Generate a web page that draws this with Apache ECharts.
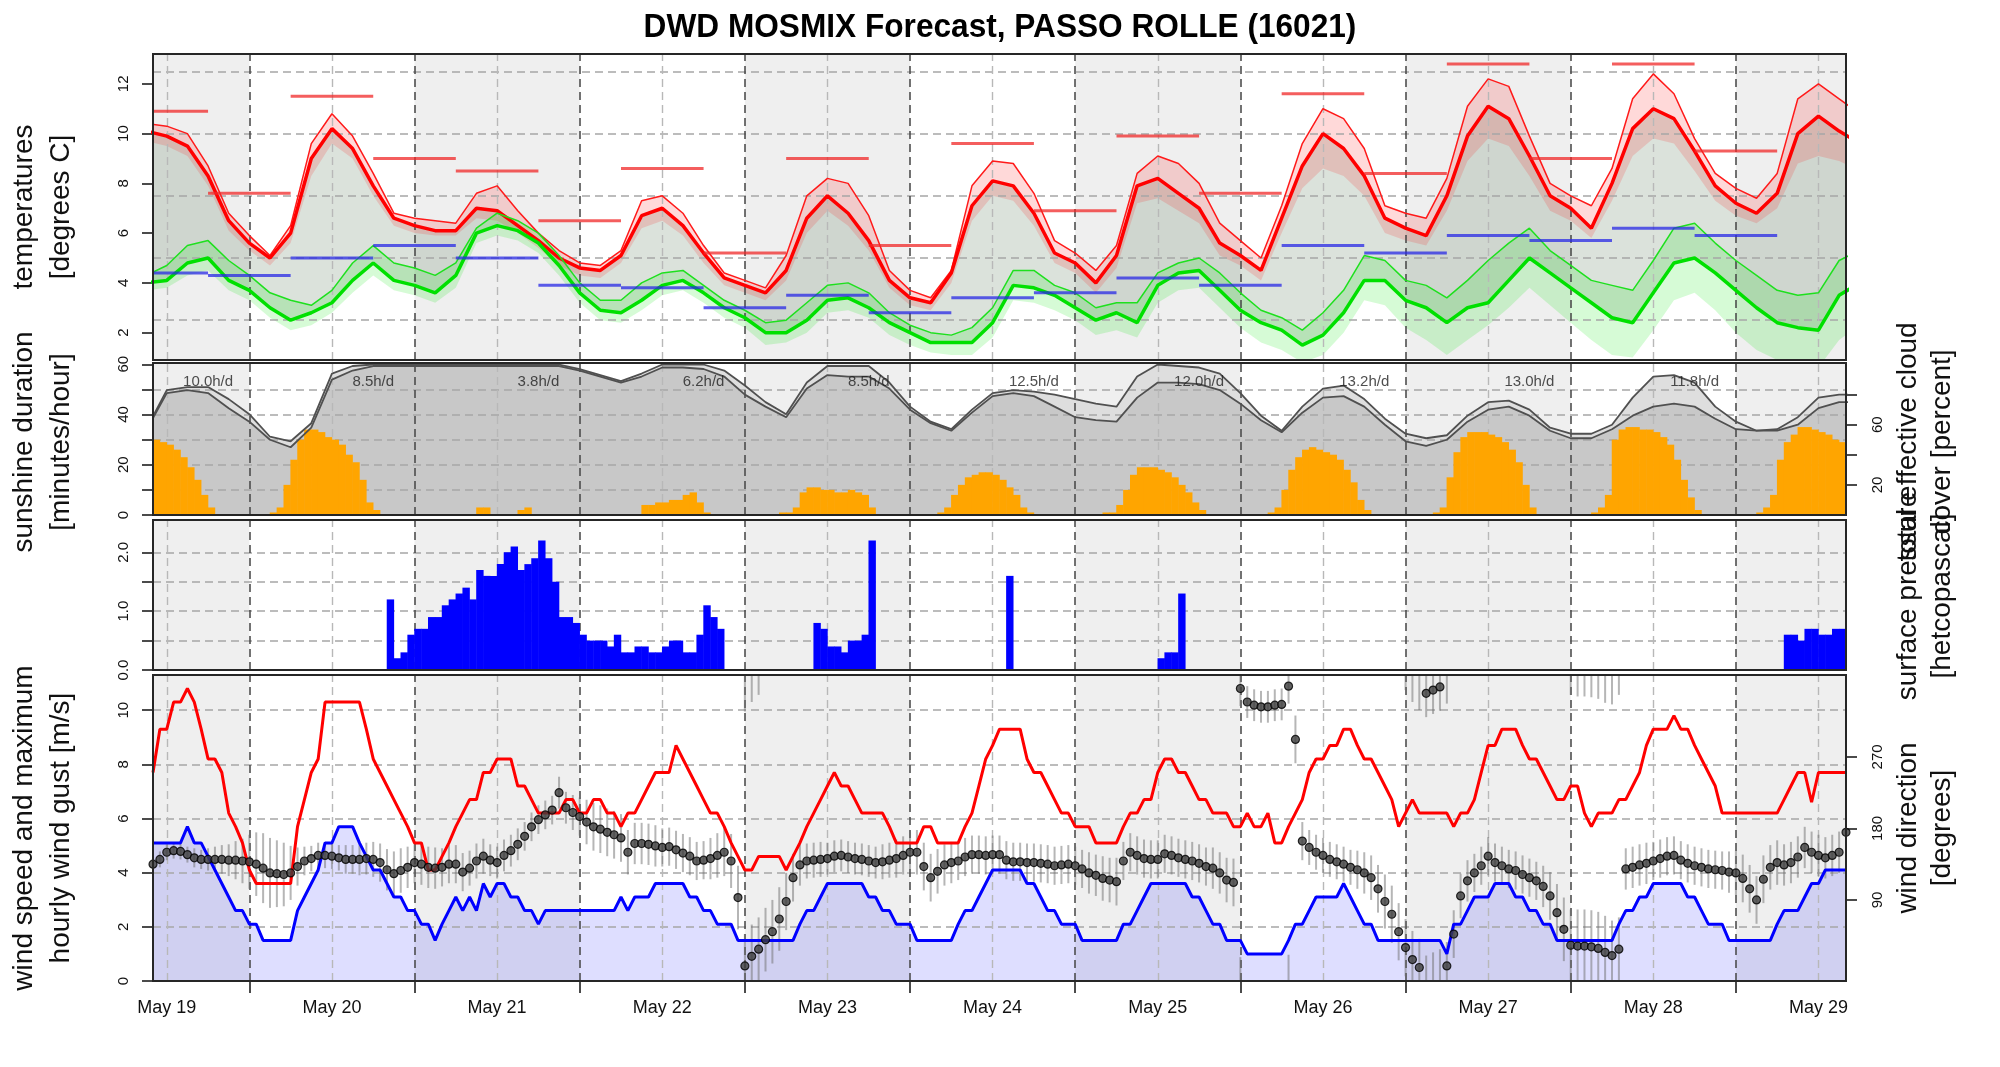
<!DOCTYPE html>
<html>
<head>
<meta charset="utf-8">
<title>DWD MOSMIX Forecast, PASSO ROLLE (16021)</title>
<script src="https://cdn.jsdelivr.net/npm/echarts@6/dist/echarts.min.js"></script>
<style>
  html, body { margin: 0; padding: 0; background: #fff; }
  #meteogram { width: 2000px; height: 1067px; }
</style>
</head>
<body>
<div id="meteogram"></div>
<script>
// time is counted in hours from May 19 00:00
const xMin = 10, xMax = 256;
const noonHours = [12, 36, 60, 84, 108, 132, 156, 180, 204, 228, 252];
const midnightHours = [24, 48, 72, 96, 120, 144, 168, 192, 216, 240];
const dayLabels = ['May 19', 'May 20', 'May 21', 'May 22', 'May 23', 'May 24', 'May 25', 'May 26', 'May 27', 'May 28', 'May 29'];
const shadedDays = [[10, 24], [48, 72], [96, 120], [144, 168], [192, 216], [240, 256]];

// temperatures, 3-hourly from 09:00 May 19
const tempStart = 9, tempStep = 3;
const tempMain = [
  10.1, 9.9, 9.5, 8.3, 6.5, 5.6, 5.0, 6.0,
  9.0, 10.2, 9.4, 7.9, 6.6, 6.3, 6.1, 6.1,
  7.0, 6.9, 6.3, 5.7, 5.0, 4.6, 4.5, 5.1,
  6.7, 7.0, 6.3, 5.2, 4.2, 3.9, 3.6, 4.5,
  6.6, 7.5, 6.8, 5.7, 4.1, 3.4, 3.2, 4.4,
  7.1, 8.1, 7.9, 6.8, 5.2, 4.8, 4.0, 5.1,
  7.9, 8.2, 7.6, 7.0, 5.6, 5.1, 4.5, 6.6,
  8.7, 10.0, 9.4, 8.3, 6.6, 6.2, 5.9, 7.5,
  9.9, 11.1, 10.6, 9.1, 7.5, 7.0, 6.2, 8.0,
  10.2, 11.0, 10.6, 9.3, 7.9, 7.2, 6.8, 7.6,
  10.0, 10.7, 10.1, 9.6];
const tempHigh = [
  10.4, 10.3, 10.0, 8.7, 6.8, 5.9, 5.1, 6.3,
  9.6, 10.8, 9.9, 8.4, 6.8, 6.6, 6.5, 6.4,
  7.6, 7.9, 6.9, 6.0, 5.3, 4.8, 4.7, 5.3,
  7.3, 7.5, 6.8, 5.5, 4.4, 4.1, 3.8, 5.1,
  7.5, 8.2, 8.0, 6.7, 4.5, 3.7, 3.4, 4.5,
  7.9, 8.9, 8.8, 7.6, 5.7, 5.2, 4.5, 5.5,
  8.4, 9.1, 8.8, 8.0, 6.4, 5.7, 5.0, 7.1,
  9.6, 11.0, 10.6, 9.4, 7.1, 6.8, 6.6, 8.2,
  11.1, 12.2, 11.9, 9.9, 8.0, 7.5, 7.1, 8.6,
  11.4, 12.4, 11.6, 9.8, 8.4, 7.8, 7.4, 8.4,
  11.4, 12.0, 11.4, 10.8];
const tempLow = [
  9.7, 9.5, 9.1, 7.9, 6.1, 5.3, 4.7, 5.6,
  8.3, 9.6, 9.0, 7.5, 6.3, 6.0, 5.9, 5.9,
  6.6, 6.5, 6.0, 5.4, 4.7, 4.3, 4.2, 4.8,
  6.2, 6.5, 5.9, 4.8, 3.9, 3.6, 3.3, 4.1,
  6.0, 6.9, 6.3, 5.3, 3.8, 3.1, 2.9, 4.0,
  6.5, 7.5, 7.3, 6.3, 4.8, 4.4, 3.6, 4.6,
  7.2, 7.4, 6.9, 6.4, 5.1, 4.7, 4.1, 6.0,
  7.8, 8.6, 8.3, 7.5, 6.0, 5.7, 5.5, 6.9,
  8.9, 9.8, 9.5, 8.3, 6.9, 6.5, 5.8, 7.3,
  9.1, 9.8, 9.6, 8.5, 7.3, 6.7, 6.4, 7.0,
  8.8, 9.1, 8.9, 8.5];
const dewMain = [
  4.0, 4.1, 4.8, 5.0, 4.1, 3.7, 3.0, 2.5,
  2.8, 3.2, 4.1, 4.8, 4.1, 3.9, 3.6, 4.3,
  6.0, 6.3, 6.1, 5.6, 4.7, 3.6, 2.9, 2.8,
  3.3, 3.9, 4.1, 3.6, 3.0, 2.6, 2.0, 2.0,
  2.5, 3.3, 3.4, 3.0, 2.4, 2.0, 1.6, 1.6,
  1.6, 2.4, 3.9, 3.8, 3.5, 3.0, 2.5, 2.8,
  2.4, 3.9, 4.4, 4.5, 3.7, 2.9, 2.4, 2.1,
  1.5, 1.9, 2.8, 4.1, 4.1, 3.3, 3.0, 2.4,
  3.0, 3.2, 4.1, 5.0, 4.4, 3.8, 3.2, 2.6,
  2.4, 3.6, 4.8, 5.0, 4.4, 3.7, 3.0, 2.4,
  2.2, 2.1, 3.5, 4.0];
const dewHigh = [
  4.3, 4.7, 5.5, 5.7, 4.9, 4.3, 3.6, 3.3,
  3.1, 3.7, 4.8, 5.5, 4.8, 4.6, 4.3, 4.8,
  6.2, 6.8, 6.5, 6.0, 5.1, 4.0, 3.3, 3.3,
  4.0, 4.4, 4.5, 3.9, 3.3, 2.9, 2.4, 2.5,
  3.2, 3.9, 4.0, 3.6, 2.8, 2.3, 2.0, 1.9,
  2.2, 3.0, 4.5, 4.5, 3.9, 3.6, 3.0, 3.2,
  3.2, 4.4, 4.8, 5.0, 4.4, 3.6, 2.9, 2.6,
  2.1, 2.8, 3.7, 5.1, 4.9, 4.1, 3.9, 3.4,
  4.1, 4.9, 5.6, 6.2, 5.3, 4.7, 4.1, 3.9,
  3.7, 4.9, 6.2, 6.4, 5.6, 4.9, 4.3, 3.7,
  3.5, 3.6, 4.9, 5.3];
const dewLow = [
  3.7, 3.8, 4.3, 4.5, 3.7, 3.3, 2.6, 2.1,
  2.3, 2.8, 3.6, 4.3, 3.7, 3.5, 3.2, 3.8,
  5.6, 5.9, 5.7, 5.2, 4.3, 3.2, 2.5, 2.4,
  2.9, 3.5, 3.7, 3.2, 2.6, 2.2, 1.5, 1.6,
  2.0, 2.8, 2.9, 2.6, 1.9, 1.5, 1.2, 1.1,
  1.1, 1.8, 3.3, 3.2, 2.9, 2.5, 1.9, 2.1,
  1.8, 3.2, 3.7, 3.8, 3.0, 2.2, 1.6, 1.3,
  0.8, 1.1, 2.0, 3.3, 3.1, 2.2, 1.7, 1.1,
  1.7, 2.3, 3.0, 3.8, 3.1, 2.4, 1.7, 1.1,
  1.0, 2.1, 3.3, 3.6, 2.9, 2.0, 1.3, 0.9,
  0.7, 0.6, 1.7, 2.3];

// 12-hourly max / min temperatures
const tSegBounds = [10, 18, 30, 42, 54, 66, 78, 90, 102, 114, 126, 138, 150, 162, 174, 186, 198, 210, 222, 234, 246];
const tMax12h = [10.9, 7.6, 11.5, 9.0, 8.5, 6.5, 8.6, 5.2, 9.0, 5.5, 9.6, 6.9, 9.9, 7.6, 11.6, 8.4, 12.8, 9.0, 12.8, 9.3];
const tMin12h = [4.4, 4.3, 5.0, 5.5, 5.0, 3.9, 3.8, 3.0, 3.5, 2.8, 3.4, 3.6, 4.2, 3.9, 5.5, 5.2, 5.9, 5.7, 6.2, 5.9];

// cloud cover [%], 3-hourly from 09:00 May 19
const cloudTotal = [
  57, 83, 85, 85, 77, 67, 52, 49,
  61, 94, 99, 100, 100, 100, 100, 100,
  100, 100, 100, 100, 100, 97, 93, 89,
  94, 100, 100, 100, 96, 86, 75, 67,
  88, 99, 99, 99, 88, 72, 62, 57,
  70, 81, 83, 82, 80, 77, 74, 72,
  92, 100, 99, 98, 94, 81, 66, 56,
  72, 84, 86, 77, 64, 54, 51, 53,
  66, 75, 76, 70, 58, 54, 54, 60,
  78, 92, 93, 88, 72, 62, 56, 57,
  65, 78, 80, 80];
const cloudEffective = [
  56, 81, 83, 81, 71, 62, 50, 45,
  58, 90, 96, 99, 99, 99, 99, 99,
  99, 99, 99, 99, 99, 96, 92, 88,
  92, 98, 98, 97, 92, 80, 72, 65,
  84, 93, 92, 92, 84, 70, 61, 56,
  68, 79, 81, 79, 72, 65, 63, 62,
  78, 88, 88, 87, 83, 74, 63, 55,
  68, 78, 79, 72, 60, 49, 46, 50,
  62, 70, 72, 66, 56, 51, 51, 57,
  66, 72, 74, 72, 64, 57, 56, 56,
  60, 71, 75, 75];

// hourly sunshine [min/h], runs starting at given hour
const sunRunStart = [10, 27, 57, 63, 81, 101, 124, 148, 172, 196, 219, 243];
const sunRuns = [
  [30, 29, 28, 26, 23, 19, 14, 8, 3],
  [1, 3, 12, 22, 30, 34, 34, 33, 31, 30, 28, 24, 21, 14, 5, 2],
  [3, 3],
  [2, 3],
  [4, 4, 5, 5, 6, 6, 8, 9, 5, 1],
  [1, 1, 3, 9, 11, 11, 10, 10, 9, 9, 10, 9, 8, 3],
  [1, 3, 8, 12, 15, 16, 17, 17, 16, 14, 11, 8, 3, 1],
  [1, 1, 4, 10, 16, 19, 19, 19, 18, 17, 15, 12, 9, 5, 2],
  [1, 3, 10, 18, 23, 26, 27, 26, 25, 24, 22, 18, 13, 6, 2],
  [1, 3, 15, 25, 31, 33, 33, 33, 32, 31, 29, 26, 21, 12, 3],
  [1, 3, 8, 30, 34, 35, 35, 34, 34, 33, 31, 28, 22, 14, 7, 2],
  [1, 3, 8, 22, 29, 32, 35, 35, 34, 33, 32, 30, 29]
];
const sunDailyHours = [10.0, 8.5, 3.8, 6.2, 8.5, 12.5, 12.0, 13.2, 13.0, 11.8];
const sunDailyAt = [18, 42, 66, 90, 114, 138, 162, 186, 210, 234];

// hourly precipitation [mm], runs starting at given hour
const rainRunStart = [44, 106, 134, 156, 247];
const rainRuns = [
  [1.2, 0.2, 0.3, 0.6, 0.7, 0.7, 0.9, 0.9, 1.1, 1.2, 1.3, 1.4, 1.2, 1.7, 1.6, 1.6, 1.8, 2.0, 2.1, 1.7,
   1.8, 1.9, 2.2, 1.9, 1.5, 0.9, 0.9, 0.8, 0.6, 0.5, 0.5, 0.5, 0.4, 0.6, 0.3, 0.3, 0.4, 0.4, 0.3, 0.3,
   0.4, 0.5, 0.5, 0.3, 0.3, 0.6, 1.1, 0.9, 0.7],
  [0.8, 0.7, 0.4, 0.4, 0.3, 0.5, 0.5, 0.6, 2.2],
  [1.6],
  [0.2, 0.3, 0.3, 1.3],
  [0.6, 0.6, 0.5, 0.7, 0.7, 0.6, 0.6, 0.7, 0.7]
];

// hourly wind from 10:00 May 19 to 16:00 May 29
const windStart = 10;
const windGust = [
  7.7, 9.3, 9.3, 10.3, 10.3, 10.8, 10.3, 9.3, 8.2, 8.2,
  7.7, 6.2, 5.7, 5.1, 4.1, 3.6, 3.6, 3.6, 3.6, 3.6,
  3.6, 5.7, 6.7, 7.7, 8.2, 10.3, 10.3, 10.3, 10.3, 10.3,
  10.3, 9.3, 8.2, 7.7, 7.2, 6.7, 6.2, 5.7, 5.1, 5.1,
  4.1, 4.1, 4.6, 5.1, 5.7, 6.2, 6.7, 6.7, 7.7, 7.7,
  8.2, 8.2, 8.2, 7.2, 7.2, 6.7, 6.2, 6.2, 6.2, 6.2,
  6.7, 6.7, 6.2, 6.2, 6.7, 6.7, 6.2, 6.2, 5.7, 6.2,
  6.2, 6.7, 7.2, 7.7, 7.7, 7.7, 8.7, 8.2, 7.7, 7.2,
  6.7, 6.2, 6.2, 5.7, 5.1, 4.6, 4.1, 4.1, 4.6, 4.6,
  4.6, 4.6, 4.1, 4.6, 5.1, 5.7, 6.2, 6.7, 7.2, 7.7,
  7.2, 7.2, 6.7, 6.2, 6.2, 6.2, 6.2, 5.7, 5.1, 5.1,
  5.1, 5.1, 5.7, 5.7, 5.1, 5.1, 5.1, 5.1, 5.7, 6.2,
  7.2, 8.2, 8.7, 9.3, 9.3, 9.3, 9.3, 8.2, 7.7, 7.7,
  7.2, 6.7, 6.2, 6.2, 5.7, 5.7, 5.7, 5.1, 5.1, 5.1,
  5.1, 5.7, 6.2, 6.2, 6.7, 6.7, 7.7, 8.2, 8.2, 7.7,
  7.7, 7.2, 6.7, 6.7, 6.2, 6.2, 6.2, 5.7, 5.7, 6.2,
  5.7, 5.7, 6.2, 5.1, 5.1, 5.7, 6.2, 6.7, 7.7, 8.2,
  8.2, 8.7, 8.7, 9.3, 9.3, 8.7, 8.2, 8.2, 7.7, 7.2,
  6.7, 5.7, 6.2, 6.7, 6.2, 6.2, 6.2, 6.2, 6.2, 5.7,
  6.2, 6.2, 6.7, 7.7, 8.7, 8.7, 9.3, 9.3, 9.3, 8.7,
  8.2, 8.2, 7.7, 7.2, 6.7, 6.7, 7.2, 7.2, 6.2, 5.7,
  6.2, 6.2, 6.2, 6.7, 6.7, 7.2, 7.7, 8.7, 9.3, 9.3,
  9.3, 9.8, 9.3, 9.3, 8.7, 8.2, 7.7, 7.2, 6.2, 6.2,
  6.2, 6.2, 6.2, 6.2, 6.2, 6.2, 6.2, 6.7, 7.2, 7.7,
  7.7, 6.6, 7.7, 7.7, 7.7, 7.7, 7.7];
const windSpeed = [
  5.1, 5.1, 5.1, 5.1, 5.1, 5.7, 5.1, 5.1, 4.6, 4.1,
  3.6, 3.1, 2.6, 2.6, 2.1, 2.1, 1.5, 1.5, 1.5, 1.5,
  1.5, 2.6, 3.1, 3.6, 4.1, 5.1, 5.1, 5.7, 5.7, 5.7,
  5.1, 4.6, 4.1, 4.1, 3.6, 3.1, 3.1, 2.6, 2.6, 2.1,
  2.1, 1.5, 2.1, 2.6, 3.1, 2.6, 3.1, 2.6, 3.6, 3.1,
  3.6, 3.6, 3.1, 3.1, 2.6, 2.6, 2.1, 2.6, 2.6, 2.6,
  2.6, 2.6, 2.6, 2.6, 2.6, 2.6, 2.6, 2.6, 3.1, 2.6,
  3.1, 3.1, 3.1, 3.6, 3.6, 3.6, 3.6, 3.6, 3.1, 3.1,
  2.6, 2.6, 2.1, 2.1, 2.1, 1.5, 1.5, 1.5, 1.5, 1.5,
  1.5, 1.5, 1.5, 1.5, 2.1, 2.6, 2.6, 3.1, 3.6, 3.6,
  3.6, 3.6, 3.6, 3.6, 3.1, 3.1, 2.6, 2.6, 2.1, 2.1,
  2.1, 1.5, 1.5, 1.5, 1.5, 1.5, 1.5, 2.1, 2.6, 2.6,
  3.1, 3.6, 4.1, 4.1, 4.1, 4.1, 4.1, 3.6, 3.6, 3.1,
  2.6, 2.6, 2.1, 2.1, 2.1, 1.5, 1.5, 1.5, 1.5, 1.5,
  1.5, 2.1, 2.1, 2.6, 3.1, 3.6, 3.6, 3.6, 3.6, 3.6,
  3.6, 3.1, 3.1, 2.6, 2.1, 2.1, 1.5, 1.5, 1.5, 1.0,
  1.0, 1.0, 1.0, 1.0, 1.0, 1.5, 2.1, 2.1, 2.6, 3.1,
  3.1, 3.1, 3.1, 3.6, 3.1, 2.6, 2.1, 2.1, 1.5, 1.5,
  1.5, 1.5, 1.5, 1.5, 1.5, 1.5, 1.5, 1.5, 1.0, 2.1,
  2.1, 2.6, 3.1, 3.1, 3.1, 3.6, 3.6, 3.6, 3.1, 3.1,
  2.6, 2.6, 2.1, 2.1, 1.5, 1.5, 1.5, 1.5, 1.5, 1.5,
  1.5, 1.5, 1.5, 2.1, 2.6, 2.6, 3.1, 3.1, 3.6, 3.6,
  3.6, 3.6, 3.6, 3.1, 3.1, 2.6, 2.1, 2.1, 2.1, 1.5,
  1.5, 1.5, 1.5, 1.5, 1.5, 1.5, 2.1, 2.6, 2.6, 2.6,
  3.1, 3.6, 3.6, 4.1, 4.1, 4.1, 4.1];
const windDir = [
  135, 141, 150, 152, 151, 147, 143, 141, 141, 141,
  141, 140, 140, 139, 138, 135, 130, 124, 123, 122,
  124, 132, 139, 142, 146, 146, 145, 143, 141, 141,
  141, 142, 141, 137, 128, 123, 127, 131, 137, 135,
  131, 130, 131, 135, 135, 125, 130, 139, 145, 140,
  137, 146, 152, 160, 170, 182, 191, 197, 203, 225,
  206, 200, 195, 188, 182, 179, 175, 172, 168, 150,
  161, 161, 160, 158, 156, 157, 153, 149, 145, 139,
  140, 142, 146, 150, 139, 93, 7, 19, 28, 40,
  50, 66, 88, 118, 134, 139, 140, 141, 142, 145,
  146, 144, 142, 141, 139, 137, 138, 140, 142, 146,
  150, 150, 132, 118, 126, 134, 137, 139, 144, 147,
  147, 146, 147, 147, 140, 138, 138, 137, 137, 136,
  135, 133, 134, 135, 133, 129, 124, 121, 117, 115,
  113, 139, 150, 146, 142, 141, 141, 148, 146, 143,
  141, 139, 136, 132, 130, 124, 115, 112, 356, 339,
  335, 333, 333, 335, 336, 359, 292, 164, 156, 150,
  146, 141, 138, 135, 131, 128, 124, 118, 104, 88,
  72, 50, 30, 15, 5, 350, 354, 358, 7, 47,
  95, 114, 124, 133, 145, 137, 133, 129, 127, 122,
  118, 114, 107, 95, 74, 53, 33, 32, 32, 31,
  29, 24, 20, 28, 129, 131, 134, 136, 139, 142,
  145, 146, 140, 136, 133, 131, 129, 128, 127, 125,
  124, 117, 104, 90, 116, 131, 137, 134, 137, 144,
  156, 150, 146, 143, 146, 150, 175];
const windDirSpread = [
  10, 10, 10, 10, 10, 10, 12, 12, 14, 16, 18, 20, 24, 28,
  34, 40, 44, 44, 42, 40, 34,
  24, 18, 16, 16, 16, 16, 16, 18, 18, 20, 20, 22, 24,
  26, 28, 28, 26, 26, 26, 26, 26, 24, 24, 24, 24, 22,
  22, 22, 20, 20, 20, 20, 20, 18, 18, 18, 18, 18, 20, 20, 22, 24,
  28, 30, 30, 30, 30, 30, 28, 26, 26, 26, 26, 24, 24, 24, 24, 24, 24, 24, 26, 28, 30,
  34, 40, 40, 40, 40, 40, 40, 40, 36, 30, 26,
  22, 22, 22, 20, 20, 20, 20, 20, 20, 20, 20, 22, 22, 24, 24, 26,
  28, 30, 30, 28, 26, 26, 24, 24, 24, 24, 24, 24, 24,
  24, 24, 24, 24, 24, 24, 24, 24, 24, 24, 24, 24, 26, 26, 28, 28, 30,
  24, 24, 24, 24, 24, 24, 24, 24, 24, 24, 24, 24, 24, 26, 26, 28, 30,
  22, 20, 20, 20, 20, 20, 20, 22, 30,
  24, 22, 22, 22, 22, 22, 22, 22, 24, 26, 28,
  30, 34, 36, 36, 36, 36, 36, 30, 30, 30, 30,
  30, 28, 26, 24, 24, 24, 24, 24, 24, 24, 24, 24, 24, 26, 30,
  36, 40, 45, 46, 46, 46, 46, 46, 44, 40,
  26, 26, 26, 26, 24, 24, 24, 24, 24, 24, 24, 24, 24, 24, 24, 26, 28, 30, 30, 30,
  30, 28, 28, 26, 26, 26, 26, 26, 26, 26, 26, 26, 26];

const titleText = 'DWD MOSMIX Forecast, PASSO ROLLE (16021)';

// ---- layout ----
const FONT = '"Liberation Sans", Arial, Helvetica, sans-serif';
const plotLeft = 153, plotWidth = 1693;
const panels = [
  { top: 54, height: 306 },
  { top: 363, height: 152 },
  { top: 520, height: 150 },
  { top: 675, height: 306 }
];

const tempHours = tempMain.map((_, i) => tempStart + i * tempStep);
const windHours = windGust.map((_, i) => windStart + i);
const pairs = (hours, vals) => hours.map((h, i) => [h, vals[i]]);

function runsToBars(starts, runs) {
  const out = [];
  runs.forEach((run, r) => run.forEach((v, k) => out.push([starts[r] + k + 0.5, v])));
  return out;
}

function segmentData(vals) {
  const out = [];
  vals.forEach((v, i) => {
    out.push([tSegBounds[i], v], [tSegBounds[i + 1], v], [tSegBounds[i + 1], '-']);
  });
  return out;
}

const dayBands = {
  silent: true,
  itemStyle: { color: '#efefef' },
  data: shadedDays.map(([a, b]) => [{ xAxis: a }, { xAxis: b }])
};

function gridLines(levels) {
  const hStyle = { color: '#a6a6a6', type: [8, 5], width: 1.6 };
  const noonStyle = { color: '#b8b8b8', type: [8, 5], width: 1.4 };
  const midStyle = { color: '#444', type: [8, 5], width: 1.5 };
  return {
    silent: true, z: 3, symbol: ['none', 'none'], label: { show: false },
    emphasis: { disabled: true },
    data: [
      ...levels.map(v => ({ yAxis: v, lineStyle: hStyle })),
      ...noonHours.map(h => ({ xAxis: h, lineStyle: noonStyle })),
      ...midnightHours.map(h => ({ xAxis: h, lineStyle: midStyle }))
    ]
  };
}

// filled band between two temperature curves, drawn as one polygon through the axes
function bandSeries(id, lo, hi, color, extra) {
  return Object.assign({
    id, type: 'custom', xAxisIndex: 0, yAxisIndex: 0, clip: true, silent: true, z: 2,
    data: tempHours.map((h, i) => [h, lo[i], hi[i]]),
    renderItem: (params, api) => {
      if (params.dataIndex !== 0) return null;
      const upper = tempHours.map((h, i) => api.coord([h, hi[i]]));
      const lower = tempHours.map((h, i) => api.coord([h, lo[i]])).reverse();
      return { type: 'polygon', shape: { points: upper.concat(lower) }, style: { fill: color } };
    }
  }, extra || {});
}

function lineSeries(id, xi, yi, data, color, width, z) {
  return {
    id, type: 'line', xAxisIndex: xi, yAxisIndex: yi, data, symbol: 'none',
    lineStyle: { color, width }, silent: true, z: z || 5
  };
}

function xAxisFor(i) {
  const bottom = i === 3;
  return {
    type: 'value', gridIndex: i, min: xMin, max: xMax,
    axisLine: { show: false }, splitLine: { show: false },
    axisTick: bottom
      ? { show: true, customValues: midnightHours, length: 12, lineStyle: { color: '#111', width: 1.5 } }
      : { show: false },
    axisLabel: bottom
      ? { show: true, customValues: noonHours, margin: 18, fontSize: 18, fontFamily: FONT, color: '#111',
          formatter: v => dayLabels[noonHours.indexOf(v)] }
      : { show: false }
  };
}

function yAxisFor(gridIndex, position, min, max, ticks, labels, fmt) {
  return {
    type: 'value', gridIndex, position, min, max,
    axisLine: { show: false }, splitLine: { show: false },
    axisTick: { show: true, customValues: ticks, length: 11, lineStyle: { color: '#111', width: 1.5 } },
    axisLabel: {
      show: true, customValues: labels, rotate: 90, margin: position === 'left' ? 22 : 24,
      fontSize: 15, fontFamily: FONT, color: '#111', formatter: fmt || (v => String(v))
    }
  };
}

function axisTitle(x, y, text, lineHeight) {
  return {
    type: 'text', x, y, rotation: Math.PI / 2, silent: true, z: 100,
    style: { text, font: '28px ' + FONT, fill: '#111', textAlign: 'center', textVerticalAlign: 'middle', lineHeight }
  };
}

const option = {
  animation: false,
  backgroundColor: '#fff',
  grid: panels.map(p => ({ left: plotLeft, width: plotWidth, top: p.top, height: p.height, show: false, outerBoundsMode: 'none' })),
  xAxis: [0, 1, 2, 3].map(xAxisFor),
  yAxis: [
    yAxisFor(0, 'left', 0.9, 13.2, [2, 4, 6, 8, 10, 12], [2, 4, 6, 8, 10, 12]),
    yAxisFor(1, 'left', 0, 60.5, [0, 10, 20, 30, 40, 50, 60], [0, 20, 40, 60]),
    yAxisFor(1, 'right', 0, 101, [20, 40, 60, 80], [20, 60]),
    yAxisFor(2, 'left', 0, 2.55, [0, 0.5, 1, 1.5, 2], [0, 1, 2], v => v.toFixed(1)),
    yAxisFor(3, 'left', 0, 11.3, [0, 2, 4, 6, 8, 10], [0, 2, 4, 6, 8, 10]),
    yAxisFor(3, 'right', -12, 373, [90, 180, 270], [90, 180, 270])
  ],
  series: [
    // --- temperatures ---
    bandSeries('dewToTemp', dewMain, tempMain, 'rgba(110,140,110,0.25)',
      { markArea: dayBands, markLine: gridLines([2.5, 5, 7.5, 10, 12.5]) }),
    bandSeries('tempBand', tempLow, tempHigh, 'rgba(255,0,0,0.15)'),
    bandSeries('dewBand', dewLow, dewHigh, 'rgba(0,230,0,0.16)'),
    lineSeries('tempHighLine', 0, 0, pairs(tempHours, tempHigh), '#ff1a1a', 1.5),
    lineSeries('tempLine', 0, 0, pairs(tempHours, tempMain), '#ff0000', 3.5),
    lineSeries('dewHighLine', 0, 0, pairs(tempHours, dewHigh), '#1ee01e', 1.5),
    lineSeries('dewLine', 0, 0, pairs(tempHours, dewMain), '#00e000', 3.5),
    lineSeries('tMax', 0, 0, segmentData(tMax12h), 'rgba(240,40,40,0.75)', 3, 6),
    lineSeries('tMin', 0, 0, segmentData(tMin12h), 'rgba(40,40,230,0.75)', 3, 6),

    // --- sunshine & cloud cover ---
    {
      id: 'cloudTotalArea', type: 'line', xAxisIndex: 1, yAxisIndex: 2, data: pairs(tempHours, cloudTotal),
      symbol: 'none', lineStyle: { opacity: 0 }, areaStyle: { color: '#dedede', opacity: 1 }, silent: true, z: 2,
      markArea: dayBands
    },
    {
      id: 'cloudEffArea', type: 'line', xAxisIndex: 1, yAxisIndex: 2, data: pairs(tempHours, cloudEffective),
      symbol: 'none', lineStyle: { opacity: 0 }, areaStyle: { color: '#c8c8c8', opacity: 1 }, silent: true, z: 2
    },
    {
      id: 'sunshine', type: 'bar', xAxisIndex: 1, yAxisIndex: 1, data: runsToBars(sunRunStart, sunRuns),
      barWidth: 7.4, itemStyle: { color: '#ffa500' }, silent: true, z: 4,
      markLine: gridLines([10, 20, 30, 40, 50])
    },
    lineSeries('cloudTotalLine', 1, 2, pairs(tempHours, cloudTotal), '#505050', 1.8),
    lineSeries('cloudEffLine', 1, 2, pairs(tempHours, cloudEffective), '#505050', 1.8),
    {
      id: 'sunDaily', type: 'scatter', xAxisIndex: 1, yAxisIndex: 1,
      data: sunDailyAt.map(h => [h, 53]), symbolSize: 1, itemStyle: { color: 'rgba(0,0,0,0)' }, silent: true, z: 6,
      label: {
        show: true, position: 'inside', fontSize: 15, fontFamily: FONT, color: '#222',
        formatter: p => sunDailyHours[p.dataIndex].toFixed(1) + 'h/d'
      }
    },

    // --- precipitation ---
    {
      id: 'precip', type: 'bar', xAxisIndex: 2, yAxisIndex: 3, data: runsToBars(rainRunStart, rainRuns),
      barWidth: 7.4, itemStyle: { color: '#0000ff' }, silent: true, z: 4,
      markArea: dayBands, markLine: gridLines([0.5, 1, 1.5, 2])
    },

    // --- wind ---
    {
      id: 'speedArea', type: 'line', xAxisIndex: 3, yAxisIndex: 4, data: pairs(windHours, windSpeed),
      symbol: 'none', lineStyle: { opacity: 0 }, areaStyle: { color: 'rgba(0,0,255,0.13)', opacity: 1 },
      silent: true, z: 2, markArea: dayBands, markLine: gridLines([2, 4, 6, 8, 10])
    },
    {
      id: 'dirSpread', type: 'custom', xAxisIndex: 3, yAxisIndex: 5, clip: true, silent: true, z: 4,
      data: windHours.map((h, i) => [h, windDir[i], windDirSpread[i]]),
      renderItem: (params, api) => {
        const h = api.value(0), d = api.value(1), s = api.value(2);
        const segs = [[d - s, d + s]];
        if (d - s < 0) segs.push([d - s + 360, d + s + 360]);
        if (d + s > 360) segs.push([d - s - 360, d + s - 360]);
        return {
          type: 'group',
          children: segs.map(([a, b]) => {
            const p1 = api.coord([h, a]), p2 = api.coord([h, b]);
            return {
              type: 'line', shape: { x1: p1[0], y1: p1[1], x2: p2[0], y2: p2[1] },
              style: { stroke: 'rgba(110,110,110,0.5)', lineWidth: 2 }
            };
          })
        };
      }
    },
    lineSeries('gust', 3, 4, pairs(windHours, windGust), '#ff0000', 3),
    lineSeries('speed', 3, 4, pairs(windHours, windSpeed), '#0000ff', 3),
    {
      id: 'direction', type: 'scatter', xAxisIndex: 3, yAxisIndex: 5, data: pairs(windHours, windDir),
      symbolSize: 8, itemStyle: { color: '#3c3c3c', borderColor: '#000', borderWidth: 1.2 }, silent: true, z: 6
    }
  ],
  graphic: [
    {
      type: 'text', x: 1000, y: 28, scaleX: 0.93, silent: true, z: 100,
      style: { text: titleText, font: 'bold 34px ' + FONT, fill: '#000', textAlign: 'center', textVerticalAlign: 'middle' }
    },
    axisTitle(43, 207, 'temperatures\n[degrees C]', 37),
    axisTitle(43, 442, 'sunshine duration\n[minutes/hour]', 37),
    axisTitle(43, 828, 'wind speed and maximum\nhourly wind gust [m/s]', 37),
    axisTitle(1925, 442, 'total effective cloud\ncover [percent]', 34),
    axisTitle(1925, 596, 'surface pressure\n[hetcopascal]', 34),
    axisTitle(1925, 828, 'wind direction\n[degrees]', 34),
    ...panels.map(p => ({
      type: 'rect', silent: true, z: 100,
      shape: { x: plotLeft, y: p.top, width: plotWidth, height: p.height },
      style: { fill: 'none', stroke: '#262626', lineWidth: 2 }
    }))
  ]
};

const chart = echarts.init(document.getElementById('meteogram'));
chart.setOption(option);
</script>
</body>
</html>
